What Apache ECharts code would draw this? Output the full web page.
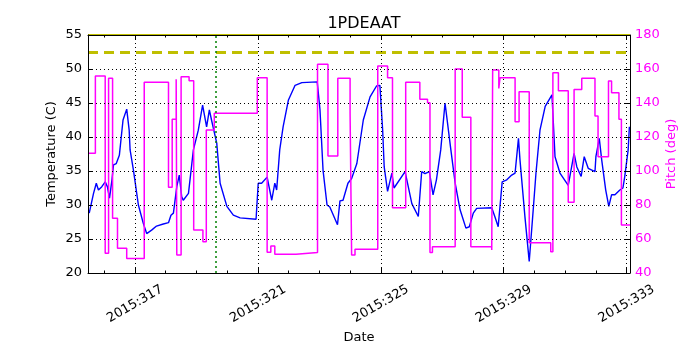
<!DOCTYPE html>
<html>
<head>
<meta charset="utf-8">
<script src="https://cdn.jsdelivr.net/npm/echarts@6/dist/echarts.min.js"></script>
<style>html,body{margin:0;padding:0;background:#fff}#c{width:700px;height:350px}</style>
</head>
<body>
<div id="c"></div>
<script>
// ---- data (day of year 2015) ----
const xMin = 315.47, xMax = 333.11;
const majorDays = [317, 321, 325, 329, 333];
const minorDays = [316,317,318,319,320,321,322,323,324,325,326,327,328,329,330,331,332,333];
const tempDays = [315.51,315.65,315.74,315.76,315.81,315.92,316.03,316.10,316.17,316.25,316.30,316.39,316.44,316.49,316.61,316.73,316.81,316.84,316.95,317.11,317.27,317.38,317.43,317.54,317.70,317.92,318.09,318.17,318.25,318.36,318.44,318.52,318.57,318.74,318.85,318.90,319.06,319.20,319.33,319.42,319.49,319.66,319.77,319.99,320.20,320.42,320.94,321.01,321.12,321.30,321.45,321.55,321.61,321.71,321.82,321.99,322.21,322.43,322.93,323.02,323.12,323.25,323.34,323.59,323.67,323.77,323.93,324.05,324.22,324.43,324.65,324.86,324.97,325.06,325.11,325.22,325.36,325.43,325.79,326.01,326.22,326.33,326.44,326.58,326.70,326.81,326.87,326.95,327.09,327.28,327.42,327.58,327.77,327.88,328.01,328.12,328.61,328.71,328.82,328.95,329.10,329.26,329.37,329.48,329.53,329.69,329.83,329.96,330.05,330.18,330.35,330.57,330.67,330.83,331.10,331.21,331.29,331.38,331.52,331.62,331.75,331.97,332.00,332.11,332.19,332.32,332.42,332.51,332.62,332.78,332.88,332.94,333.05,333.09];
const tempValues = [28.8,31.7,33.2,33.4,32.2,32.7,33.4,32.7,31.0,33.7,35.9,36.1,36.0,37.3,42.5,44.1,41.0,38.1,35.1,30.0,27.3,25.8,25.8,26.3,26.9,27.2,27.4,28.5,28.8,32.7,34.4,31.2,30.7,31.7,36.1,38.1,41.0,44.7,41.5,44.0,42.5,39.1,33.2,29.8,28.5,28.1,27.9,33.2,33.2,34.1,30.7,33.2,32.2,38.1,41.5,45.4,47.6,48.0,48.1,44.0,35.1,30.0,29.7,27.1,30.6,30.7,33.2,33.9,36.1,42.5,45.9,47.5,47.6,41.0,35.6,32.0,34.7,32.5,34.9,30.2,28.3,34.9,34.6,34.9,31.5,33.7,33.9,38.1,45.0,38.1,33.2,29.3,26.6,26.8,28.8,29.5,29.6,28.3,26.8,33.4,33.7,34.4,34.7,39.8,36.6,28.3,21.7,29.3,34.7,41.0,44.5,46.2,37.1,34.7,32.9,35.6,37.6,35.6,34.2,37.1,35.4,34.9,37.1,39.8,36.6,32.2,29.8,31.5,31.5,32.2,32.5,34.2,38.1,41.5];
const pitchDays = [315.47,315.71,316.03,316.14,316.27,316.43,316.73,317.30,318.09,318.21,318.34,318.36,318.50,318.76,318.91,319.21,319.32,319.58,320.98,321.30,321.42,321.55,322.24,322.94,323.28,323.60,324.00,324.05,324.16,324.90,325.22,325.38,325.81,326.27,326.52,326.60,326.68,327.42,327.65,327.93,328.61,328.64,328.84,328.88,329.37,329.50,329.83,330.53,330.60,330.78,331.10,331.29,331.54,331.97,332.07,332.41,332.51,332.75,332.83,333.11];
const pitchValues = [110.4,155.9,51.6,154.5,72.2,54.5,48.6,152.2,90.4,130.4,154.0,50.6,155.5,153.1,65.3,58.4,124.1,134.0,154.9,52.2,55.9,51.0,52.0,162.8,108.8,154.5,134.0,50.6,54.0,161.8,154.9,78.4,152.2,142.2,140.2,52.0,55.5,160.0,131.6,55.5,53.5,159.4,148.6,154.9,129.0,146.6,57.8,52.5,157.8,147.2,81.6,148.0,154.5,132.4,108.4,152.9,146.1,130.4,68.2,68.2];
const planningLimit = 52.5;
const cautionLimit = 55;
const eventDay = 319.64;
const tempTicks = [20, 25, 30, 35, 40, 45, 50, 55];
const pitchTicks = [40, 60, 80, 100, 120, 140, 160, 180];

const FONT = 'DejaVu Sans';
const chart = echarts.init(document.getElementById('c'), null, {renderer: 'canvas'});
const noLine = {show: false};
const option = {
  animation: false,
  backgroundColor: '#fff',
  title: {
    text: '1PDEAAT', left: 359, top: 11, textAlign: 'center',
    textStyle: {fontFamily: FONT, fontSize: 16, fontWeight: 'normal', color: '#000'}
  },
  grid: {left: 88, right: 70, top: 35, bottom: 77, containLabel: false, outerBoundsMode: 'none'},
  xAxis: [
    {
      type: 'value', min: xMin, max: xMax, position: 'bottom',
      name: 'Date', nameLocation: 'middle', nameGap: 58, nameMoveOverlap: false,
      nameTextStyle: {fontFamily: FONT, fontSize: 13, color: '#000'},
      axisLine: {show: true, onZero: false, lineStyle: {color: '#000', width: 1}},
      axisTick: {show: true, inside: true, length: 5, customValues: majorDays, lineStyle: {color: '#000'}},
      axisLabel: {
        customValues: majorDays, rotate: 30, align: 'center', verticalAlign: 'middle', margin: 31,
        fontFamily: FONT, fontSize: 13, color: '#000',
        formatter: v => '2015:' + Math.round(v)
      },
      splitLine: {show: true, lineStyle: {color: '#000', type: [1, 3], width: 1}},
      z: 10
    },
    {
      type: 'value', min: xMin, max: xMax, position: 'top',
      axisLine: {show: true, onZero: false, lineStyle: {color: '#000', width: 1}},
      axisTick: {show: true, inside: true, length: 5, customValues: majorDays, lineStyle: {color: '#000'}},
      axisLabel: {show: false}, splitLine: noLine, z: 10
    },
    {
      type: 'value', min: xMin, max: xMax, position: 'bottom',
      axisLine: {show: false, onZero: false},
      axisTick: {show: true, inside: true, length: 2.5, customValues: minorDays, lineStyle: {color: '#000'}},
      axisLabel: {show: false}, splitLine: noLine
    },
    {
      type: 'value', min: xMin, max: xMax, position: 'top',
      axisLine: {show: false, onZero: false},
      axisTick: {show: true, inside: true, length: 2.5, customValues: minorDays, lineStyle: {color: '#000'}},
      axisLabel: {show: false}, splitLine: noLine
    }
  ],
  yAxis: [
    {
      type: 'value', min: 20, max: 55, interval: 5, position: 'left',
      name: 'Temperature (C)', nameLocation: 'middle', nameGap: 30, nameRotate: 90, nameMoveOverlap: false,
      nameTextStyle: {fontFamily: FONT, fontSize: 13, color: '#000'},
      axisLine: {show: true, onZero: false, lineStyle: {color: '#000', width: 1}},
      axisTick: {show: true, inside: true, length: 5, customValues: tempTicks, lineStyle: {color: '#000'}},
      axisLabel: {customValues: tempTicks, fontFamily: FONT, fontSize: 13, color: '#000', margin: 6},
      splitLine: {show: true, lineStyle: {color: '#000', type: [1, 3], width: 1}},
      z: 10
    },
    {
      type: 'value', min: 40, max: 180, interval: 20, position: 'right',
      name: 'Pitch (deg)', nameLocation: 'middle', nameGap: 35, nameRotate: 90, nameMoveOverlap: false,
      nameTextStyle: {fontFamily: FONT, fontSize: 13, color: '#ff00ff'},
      axisLine: {show: true, onZero: false, lineStyle: {color: '#000', width: 1}},
      axisTick: {show: true, inside: true, length: 5, customValues: pitchTicks, lineStyle: {color: '#000'}},
      axisLabel: {customValues: pitchTicks, fontFamily: FONT, fontSize: 13, color: '#ff00ff', margin: 5},
      splitLine: noLine,
      z: 10
    }
  ],
  series: [
    {
      type: 'line', name: 'Temperature', xAxisIndex: 0, yAxisIndex: 0,
      data: tempDays.map((d, i) => [d, tempValues[i]]),
      showSymbol: false, symbol: 'none',
      lineStyle: {color: '#0000ff', width: 1.4},
      z: 3,
      markLine: {
        silent: true, symbol: 'none', label: {show: false},
        data: [
          {yAxis: planningLimit, lineStyle: {color: '#bfbf00', type: [10, 6], width: 3}},
          {yAxis: cautionLimit, lineStyle: {color: '#bfbf00', type: 'solid', width: 2}},
          {xAxis: eventDay, lineStyle: {color: '#008000', type: [2, 3], width: 1.5}}
        ]
      }
    },
    {
      type: 'line', name: 'Pitch', xAxisIndex: 0, yAxisIndex: 1,
      data: pitchDays.map((d, i) => [d, pitchValues[i]]),
      step: 'end', showSymbol: false, symbol: 'none',
      lineStyle: {color: '#ff00ff', width: 1.5},
      z: 4
    }
  ]
};
chart.setOption(option);
</script>
</body>
</html>
